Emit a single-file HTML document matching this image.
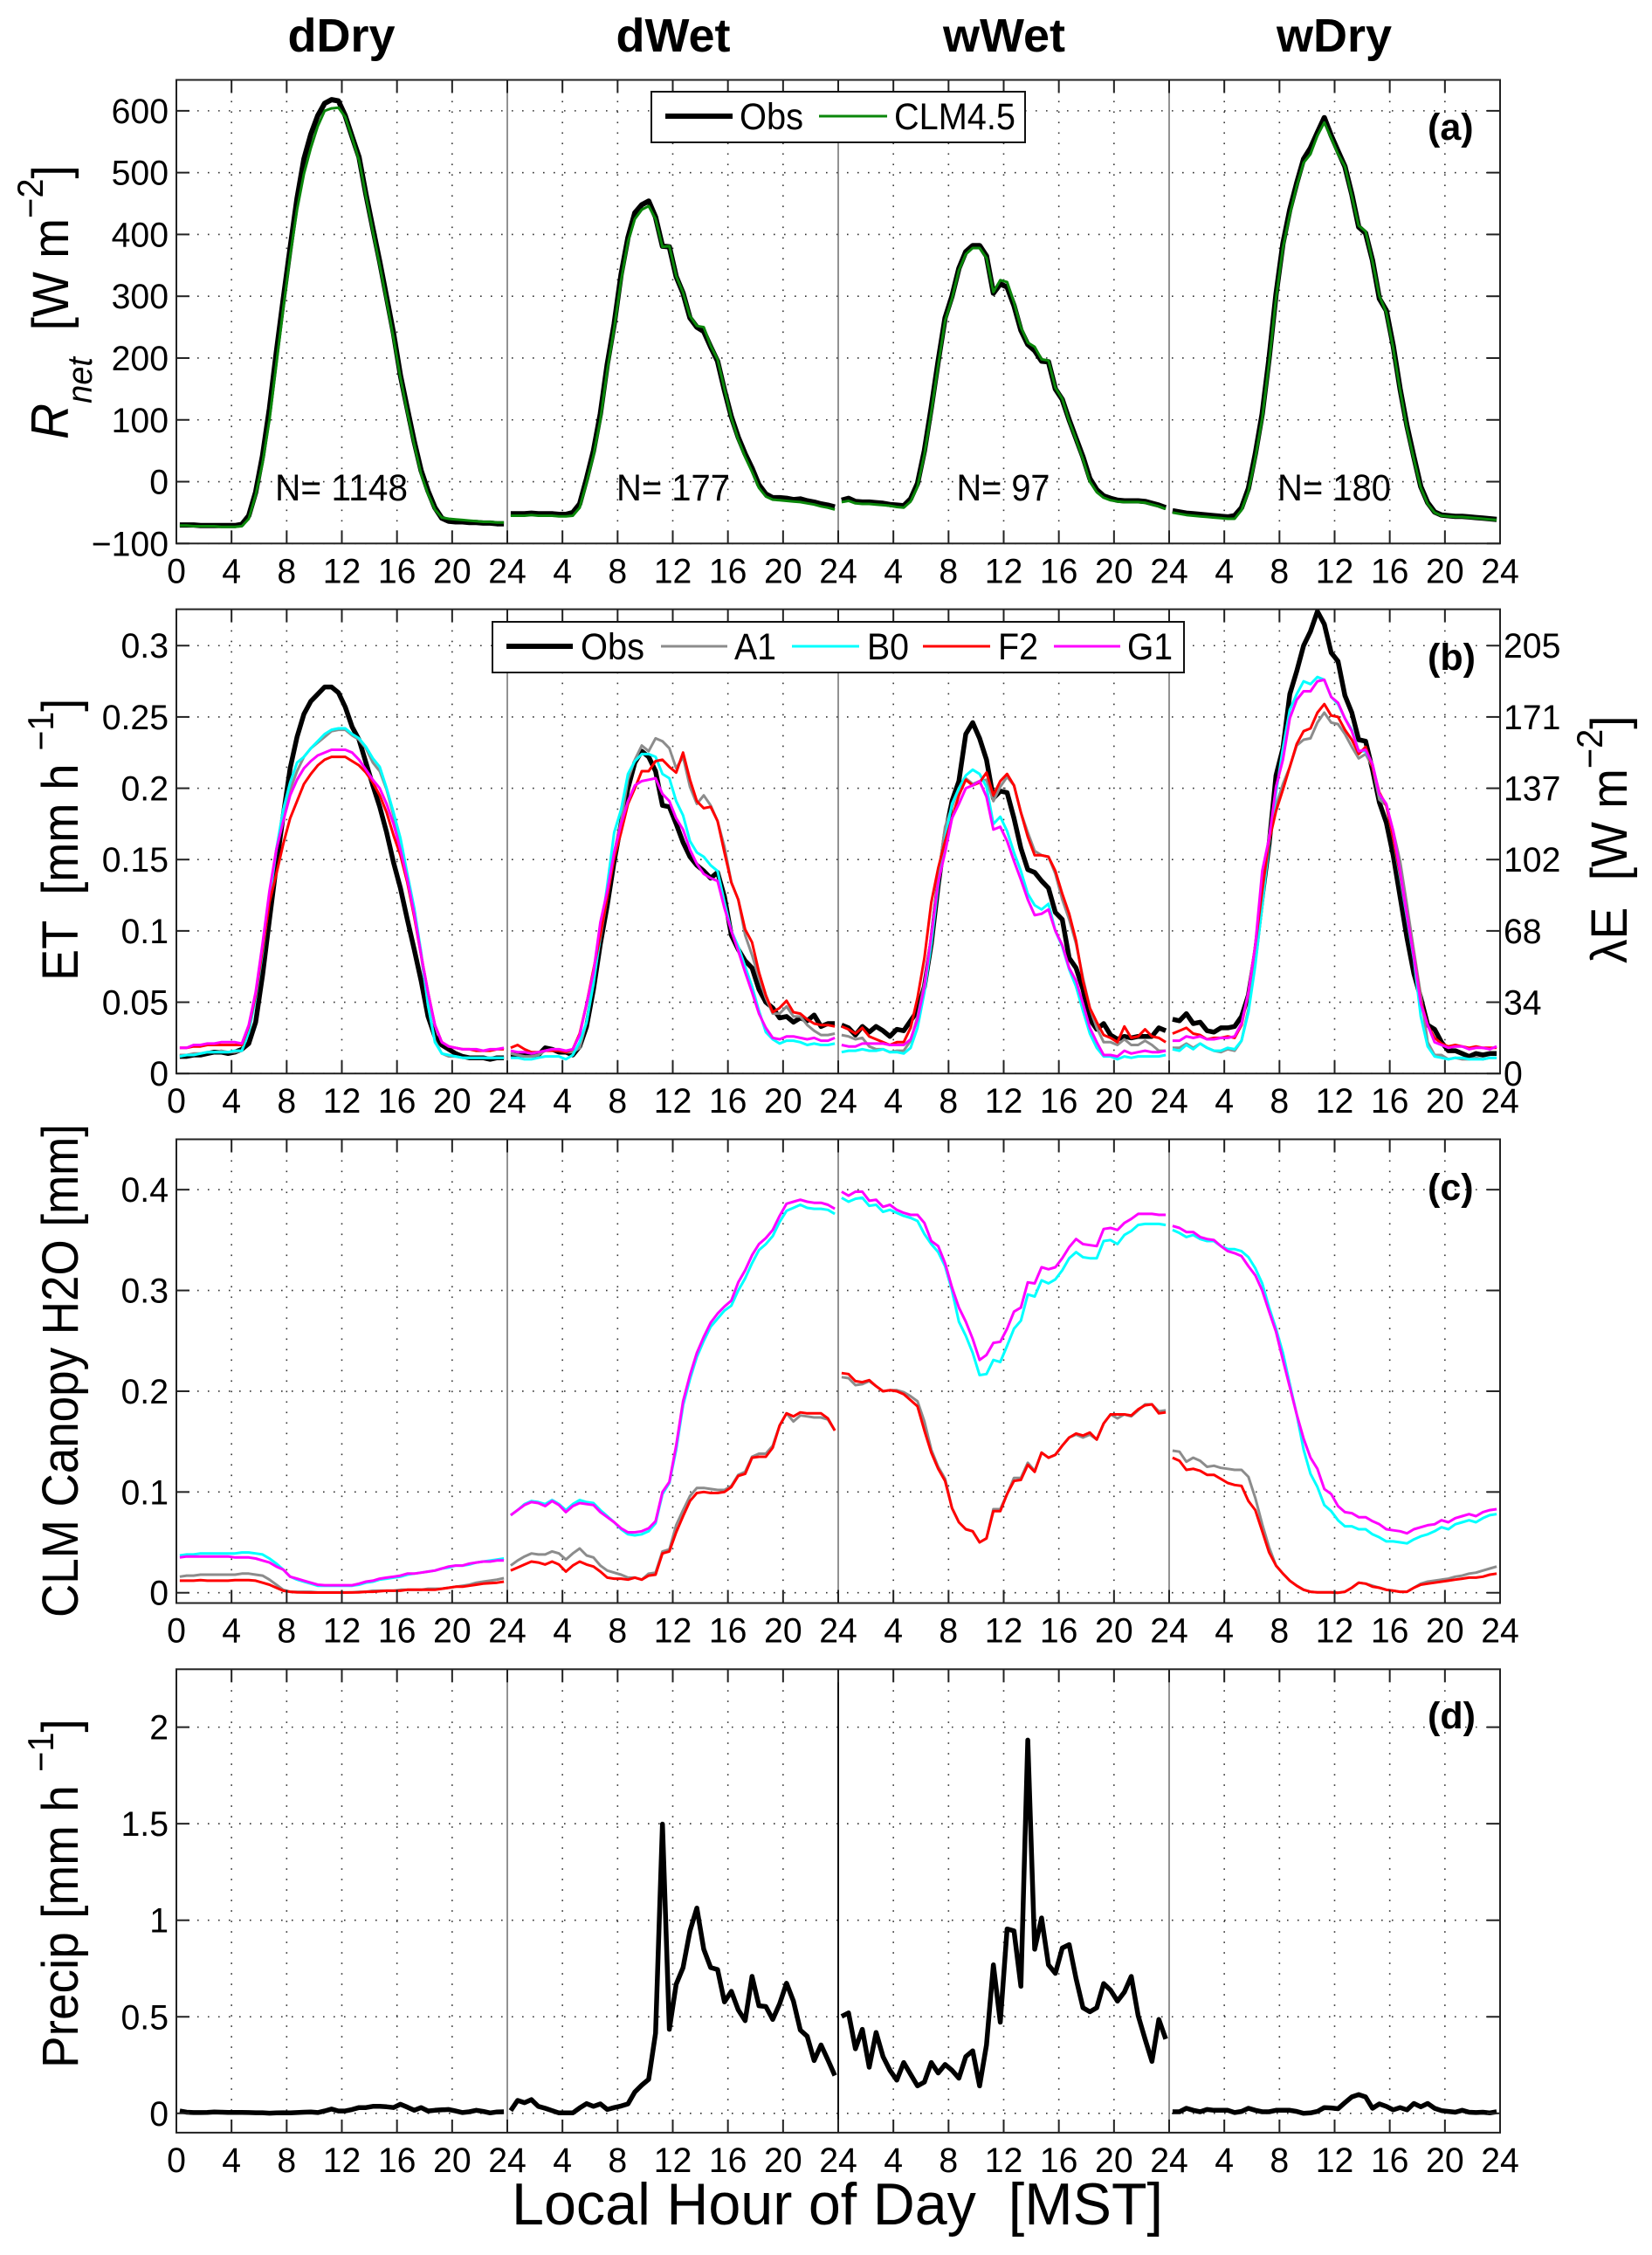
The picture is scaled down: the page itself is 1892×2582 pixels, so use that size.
<!DOCTYPE html>
<html lang="en">
<head>
<meta charset="utf-8">
<title>Diurnal energy, ET, canopy water and precipitation composites</title>
<style>
html,body{margin:0;padding:0;background:#fff;}
svg{display:block;}
text{font-family:"Liberation Sans",sans-serif;fill:#000;}
.title{font-size:54px;font-weight:bold;text-anchor:middle;}
.nlab{font-size:43px;text-anchor:middle;}
.plab{font-size:43px;font-weight:bold;}
.ylab{font-size:58px;}
.leg{font-size:43px;}
</style>
</head>
<body>
<svg id="chart" xmlns="http://www.w3.org/2000/svg" width="1892" height="2582" viewBox="0 0 1892 2582">
<rect x="0" y="0" width="1892" height="2582" fill="#fff"/>
<g id="marks"></g>

<text class="title" x="391" y="59">dDry</text>
<text class="title" x="771" y="59">dWet</text>
<text class="title" x="1150" y="59">wWet</text>
<text class="title" x="1528" y="59">wDry</text>

<text class="nlab" x="391" y="573" textLength="152" lengthAdjust="spacingAndGlyphs">N= 1148</text>
<text class="nlab" x="771" y="573" textLength="130" lengthAdjust="spacingAndGlyphs">N= 177</text>
<text class="nlab" x="1149" y="573" textLength="107" lengthAdjust="spacingAndGlyphs">N= 97</text>
<text class="nlab" x="1528" y="573" textLength="130" lengthAdjust="spacingAndGlyphs">N= 180</text>

<text class="plab" x="1635" y="160">(a)</text>
<text class="plab" x="1635" y="767">(b)</text>
<text class="plab" x="1635" y="1374">(c)</text>
<text class="plab" x="1635" y="1979">(d)</text>

<g id="legend-a">
<rect x="746" y="105" width="428" height="58" fill="#fff" stroke="#111" stroke-width="2"/>
<line x1="762" x2="839" y1="133" y2="133" stroke="#000" stroke-width="6"/>
<text class="leg" x="847" y="148" textLength="73" lengthAdjust="spacingAndGlyphs">Obs</text>
<line x1="938" x2="1016" y1="133" y2="133" stroke="#0a870a" stroke-width="3"/>
<text class="leg" x="1024" y="148" textLength="139" lengthAdjust="spacingAndGlyphs">CLM4.5</text>
</g>

<g id="legend-b">
<rect x="564" y="712" width="792" height="58" fill="#fff" stroke="#111" stroke-width="2"/>
<line x1="580" x2="656" y1="740" y2="740" stroke="#000" stroke-width="6"/>
<text class="leg" x="665" y="755" textLength="73" lengthAdjust="spacingAndGlyphs">Obs</text>
<line x1="757" x2="833" y1="740" y2="740" stroke="#8c8c8c" stroke-width="3"/>
<text class="leg" x="841" y="755" textLength="48" lengthAdjust="spacingAndGlyphs">A1</text>
<line x1="907" x2="984" y1="740" y2="740" stroke="#00ffff" stroke-width="3"/>
<text class="leg" x="993" y="755" textLength="48" lengthAdjust="spacingAndGlyphs">B0</text>
<line x1="1057" x2="1134" y1="740" y2="740" stroke="#ff0000" stroke-width="3"/>
<text class="leg" x="1143" y="755" textLength="46" lengthAdjust="spacingAndGlyphs">F2</text>
<line x1="1207" x2="1283" y1="740" y2="740" stroke="#ff00ff" stroke-width="3"/>
<text class="leg" x="1291" y="755" textLength="52" lengthAdjust="spacingAndGlyphs">G1</text>
</g>

<text class="ylab" transform="translate(78,503) rotate(-90) scale(0.95,1)"><tspan font-style="italic" font-size="60">R</tspan><tspan font-style="italic" font-size="40" dy="27">net</tspan><tspan dy="-27" xml:space="preserve">  [W m</tspan><tspan font-size="42" dy="-29">−2</tspan><tspan dy="29">]</tspan></text>
<text class="ylab" transform="translate(89,1123) rotate(-90) scale(0.933,1)" xml:space="preserve">ET  [mm h <tspan font-size="42" dy="-28">−1</tspan><tspan dy="28">]</tspan></text>
<text class="ylab" transform="translate(89,1852) rotate(-90)" textLength="565" lengthAdjust="spacingAndGlyphs">CLM Canopy H2O [mm]</text>
<text class="ylab" transform="translate(89,2368) rotate(-90) scale(0.948,1)" xml:space="preserve">Precip [mm h <tspan font-size="42" dy="-28">−1</tspan><tspan dy="28">]</tspan></text>
<text class="ylab" transform="translate(1863,1103) rotate(-90) scale(0.948,1)" xml:space="preserve">λE  [W m<tspan font-size="42" dy="-28">−2</tspan><tspan dy="28">]</tspan></text>
<text x="586" y="2547" font-size="68" textLength="746" lengthAdjust="spacingAndGlyphs" xml:space="preserve">Local Hour of Day  [MST]</text>
</svg>

<script>
// ---------- tick labels ----------
const hourTicks = [0, 4, 8, 12, 16, 20];
const hourEndTick = 24;
const rnetTicks = [-100, 0, 100, 200, 300, 400, 500, 600];
const etTicks = [0, 0.05, 0.1, 0.15, 0.2, 0.25, 0.3];
const lambdaTickLabels = ['0', '34', '68', '102', '137', '171', '205'];
const canopyTicks = [0, 0.1, 0.2, 0.3, 0.4];
const precipTicks = [0, 0.5, 1, 1.5, 2];
const regimes = ['dDry', 'dWet', 'wWet', 'wDry'];

// ---------- panel (a) net radiation, W m-2; half-hourly from 00:15, by regime ----------
const rnetObs = [
[-70,-70,-70,-71,-71,-71,-71,-71,-71,-69,-55,-17,42,118,209,295,378,458,522,562,592,612,618,616,592,558,525,465,410,356,298,240,172,118,65,18,-15,-42,-59,-64,-65,-65,-66,-66,-67,-67,-68,-68],
[-52,-52,-52,-51,-52,-52,-52,-53,-53,-50,-36,5,50,110,190,255,335,395,435,448,454,428,381,380,332,305,265,250,243,218,195,148,105,72,45,22,-5,-20,-26,-26,-27,-29,-28,-31,-33,-36,-38,-41],
[-30,-27,-32,-33,-33,-34,-35,-37,-38,-39,-28,-3,50,120,195,265,300,345,372,382,382,365,305,320,315,285,245,222,212,195,194,150,133,100,70,40,5,-13,-23,-27,-30,-31,-31,-31,-32,-35,-38,-42],
[-47,-49,-51,-52,-53,-54,-55,-56,-57,-55,-42,-11,45,110,200,303,385,440,483,522,540,565,589,560,535,510,465,412,402,358,296,277,220,150,90,40,-8,-34,-49,-54,-55,-56,-56,-57,-58,-59,-60,-61]
];
const rnetClm = [
[-71,-71,-72,-72,-72,-72,-73,-73,-73,-72,-60,-22,30,100,190,280,365,440,498,540,575,600,604,605,590,556,520,462,405,350,292,232,168,112,60,12,-20,-45,-58,-60,-61,-62,-63,-64,-65,-65,-66,-66],
[-55,-55,-55,-54,-55,-55,-55,-56,-56,-55,-42,-2,42,100,180,248,325,388,425,440,446,425,380,381,333,306,268,252,250,220,198,150,103,68,40,16,-10,-24,-29,-30,-31,-32,-33,-35,-37,-40,-42,-45],
[-33,-31,-35,-36,-36,-37,-38,-39,-41,-42,-32,-8,44,112,188,260,296,342,368,378,378,362,307,326,323,290,250,225,218,198,196,152,134,98,68,36,0,-17,-26,-30,-32,-33,-33,-33,-34,-37,-40,-44],
[-50,-52,-54,-55,-56,-57,-58,-59,-60,-60,-46,-16,38,102,192,296,378,432,478,516,530,560,581,556,530,510,462,414,405,356,300,274,216,148,86,36,-10,-36,-50,-55,-56,-57,-57,-58,-59,-60,-61,-62]
];

// ---------- panel (b) ET, mm h-1 ----------
const etObs = [
[.012,.012,.013,.013,.014,.015,.015,.014,.015,.017,.021,.036,.069,.108,.146,.181,.214,.236,.252,.261,.266,.271,.271,.267,.257,.243,.234,.218,.202,.187,.169,.148,.13,.108,.087,.065,.04,.026,.02,.017,.014,.012,.011,.011,.011,.01,.011,.011],
[.013,.013,.013,.013,.013,.018,.017,.015,.015,.013,.019,.033,.059,.091,.118,.149,.175,.2,.218,.226,.222,.212,.188,.187,.175,.162,.152,.146,.142,.137,.141,.124,.097,.087,.079,.074,.059,.05,.046,.039,.04,.036,.039,.037,.041,.033,.035,.035],
[.034,.032,.027,.033,.029,.033,.03,.026,.031,.03,.037,.044,.061,.091,.132,.167,.191,.205,.238,.246,.235,.22,.193,.198,.197,.179,.158,.143,.141,.135,.13,.113,.108,.081,.074,.059,.038,.031,.035,.027,.024,.026,.025,.026,.026,.026,.032,.03],
[.038,.037,.042,.035,.036,.03,.029,.032,.032,.033,.04,.055,.084,.124,.161,.209,.228,.266,.282,.3,.31,.324,.315,.295,.289,.265,.253,.234,.233,.213,.19,.176,.153,.124,.095,.07,.053,.034,.031,.022,.016,.016,.014,.012,.014,.013,.014,.014]
];
const etA1 = [
[.013,.013,.014,.014,.015,.015,.016,.015,.015,.016,.03,.055,.087,.124,.157,.181,.199,.212,.222,.228,.232,.236,.24,.241,.241,.237,.234,.228,.218,.212,.199,.181,.161,.138,.114,.083,.048,.023,.014,.012,.012,.011,.011,.011,.011,.011,.011,.011],
[.014,.013,.012,.012,.013,.016,.017,.016,.015,.015,.018,.036,.065,.095,.124,.155,.177,.206,.22,.23,.226,.235,.233,.228,.214,.222,.201,.189,.195,.188,.177,.159,.134,.122,.097,.083,.067,.053,.042,.042,.047,.04,.04,.034,.03,.027,.027,.028],
[.027,.026,.024,.025,.019,.017,.017,.015,.016,.016,.023,.04,.063,.095,.138,.173,.187,.2,.207,.203,.205,.206,.191,.201,.208,.202,.183,.169,.156,.153,.152,.14,.122,.108,.091,.067,.046,.032,.022,.022,.02,.024,.02,.02,.023,.02,.016,.016],
[.018,.018,.021,.018,.021,.018,.016,.015,.017,.016,.023,.045,.08,.126,.167,.188,.203,.215,.23,.234,.235,.246,.253,.246,.245,.238,.229,.221,.224,.215,.192,.188,.17,.149,.118,.086,.055,.022,.013,.013,.01,.011,.01,.01,.011,.01,.011,.011]
];
const etB0 = [
[.012,.013,.013,.014,.015,.015,.015,.015,.016,.016,.029,.053,.085,.122,.157,.185,.204,.218,.222,.228,.233,.238,.241,.242,.242,.238,.235,.229,.221,.215,.2,.183,.165,.14,.116,.085,.048,.022,.014,.013,.012,.011,.011,.011,.011,.011,.011,.011],
[.011,.011,.01,.01,.011,.012,.012,.012,.01,.013,.022,.036,.063,.097,.132,.169,.185,.21,.219,.224,.224,.222,.21,.207,.191,.181,.163,.155,.152,.146,.142,.12,.1,.089,.075,.061,.044,.029,.024,.021,.023,.023,.022,.02,.021,.02,.02,.021],
[.015,.016,.016,.017,.016,.016,.017,.015,.015,.014,.018,.032,.057,.091,.132,.165,.189,.2,.209,.213,.21,.201,.175,.18,.17,.155,.142,.126,.118,.115,.119,.1,.089,.073,.061,.044,.028,.018,.012,.012,.01,.012,.011,.012,.012,.012,.012,.013],
[.017,.016,.02,.017,.021,.018,.016,.016,.018,.017,.023,.043,.076,.118,.161,.197,.228,.255,.266,.275,.273,.278,.276,.264,.259,.249,.241,.226,.226,.217,.196,.188,.165,.138,.109,.08,.04,.019,.012,.011,.01,.011,.011,.01,.01,.01,.011,.011]
];
const etF2 = [
[.018,.018,.019,.019,.02,.02,.02,.02,.02,.02,.033,.055,.087,.12,.14,.161,.179,.191,.203,.21,.216,.22,.222,.222,.222,.219,.216,.211,.204,.195,.183,.167,.153,.134,.11,.083,.057,.034,.022,.019,.018,.017,.017,.016,.016,.016,.017,.017],
[.018,.02,.017,.015,.015,.016,.016,.016,.015,.017,.028,.049,.073,.097,.124,.151,.169,.189,.2,.212,.212,.219,.22,.215,.211,.225,.206,.191,.186,.187,.177,.155,.134,.122,.101,.092,.071,.055,.043,.046,.051,.043,.042,.038,.035,.034,.034,.033],
[.033,.031,.028,.032,.026,.024,.022,.02,.022,.022,.032,.053,.081,.12,.144,.163,.179,.195,.206,.202,.204,.211,.195,.205,.21,.202,.183,.166,.153,.153,.152,.142,.126,.112,.093,.065,.046,.036,.027,.025,.022,.033,.025,.026,.031,.026,.025,.022],
[.028,.03,.032,.028,.027,.024,.025,.025,.026,.025,.034,.057,.09,.128,.163,.184,.199,.215,.231,.24,.242,.253,.259,.251,.25,.241,.234,.224,.229,.215,.197,.188,.165,.14,.111,.082,.051,.034,.025,.021,.019,.02,.019,.018,.019,.018,.018,.018]
];
const etG1 = [
[.018,.018,.02,.02,.021,.021,.022,.022,.022,.021,.034,.057,.091,.128,.157,.177,.195,.206,.214,.219,.223,.225,.227,.227,.227,.225,.22,.213,.206,.2,.189,.175,.157,.136,.112,.083,.057,.034,.022,.019,.018,.017,.017,.017,.016,.017,.017,.018],
[.016,.015,.015,.014,.015,.016,.017,.017,.016,.017,.027,.049,.071,.106,.128,.155,.175,.191,.202,.205,.206,.207,.196,.191,.179,.171,.157,.147,.14,.137,.135,.116,.1,.086,.071,.057,.042,.032,.025,.024,.026,.026,.025,.024,.025,.023,.023,.025],
[.02,.019,.019,.021,.021,.021,.021,.02,.02,.02,.024,.038,.061,.097,.134,.155,.179,.189,.2,.202,.205,.194,.171,.173,.163,.149,.136,.122,.111,.112,.115,.1,.09,.074,.065,.049,.032,.022,.013,.013,.012,.016,.014,.015,.016,.015,.015,.016],
[.023,.023,.026,.025,.026,.024,.024,.025,.025,.026,.035,.057,.09,.142,.165,.201,.22,.249,.262,.268,.268,.275,.276,.264,.26,.249,.24,.226,.227,.217,.196,.189,.17,.142,.111,.082,.049,.034,.022,.02,.018,.019,.019,.017,.018,.018,.017,.019]
];

// ---------- panel (c) canopy water, mm ----------
const canopyA1 = [
[.016,.017,.017,.018,.018,.018,.018,.018,.018,.019,.019,.018,.017,.013,.008,.003,.001,.001,.001,.001,.0005,.0005,.0005,.0005,.0005,.0005,.001,.001,.002,.002,.002,.002,.003,.003,.003,.003,.004,.004,.004,.005,.006,.007,.008,.01,.011,.012,.013,.0145],
[.027,.032,.036,.039,.038,.038,.041,.039,.033,.039,.044,.037,.035,.027,.022,.02,.018,.015,.015,.013,.019,.02,.041,.043,.067,.082,.096,.104,.104,.103,.102,.102,.106,.117,.12,.135,.138,.138,.146,.166,.178,.17,.176,.175,.174,.174,.172,.161],
[.214,.213,.206,.207,.21,.205,.2,.201,.201,.199,.195,.19,.17,.142,.125,.113,.084,.07,.063,.061,.05,.054,.083,.083,.098,.114,.114,.129,.121,.139,.134,.137,.146,.154,.157,.154,.157,.152,.168,.177,.173,.177,.175,.181,.187,.187,.18,.181],
[.141,.14,.13,.134,.131,.125,.126,.124,.123,.122,.122,.115,.094,.068,.045,.027,.019,.012,.007,.003,.001,.0005,.0005,.0005,0,.001,.005,.01,.009,.007,.005,.003,.002,.001,.001,.005,.009,.011,.012,.013,.014,.016,.017,.019,.02,.022,.024,.026]
];
const canopyB0 = [
[.037,.038,.038,.039,.039,.039,.039,.039,.039,.04,.04,.039,.038,.034,.029,.023,.016,.013,.011,.009,.007,.007,.007,.007,.007,.007,.008,.01,.011,.013,.014,.015,.016,.018,.019,.02,.021,.022,.024,.025,.027,.027,.028,.03,.031,.032,.033,.034],
[.077,.082,.088,.091,.09,.088,.092,.088,.082,.088,.092,.09,.089,.082,.076,.07,.063,.058,.057,.058,.061,.069,.098,.109,.142,.186,.212,.234,.25,.264,.272,.28,.285,.3,.312,.327,.34,.346,.354,.368,.379,.382,.385,.382,.381,.381,.38,.376],
[.392,.388,.391,.392,.384,.385,.378,.38,.377,.374,.372,.369,.356,.346,.338,.324,.3,.269,.255,.238,.216,.217,.231,.229,.245,.262,.27,.296,.294,.31,.307,.311,.32,.332,.338,.333,.332,.332,.349,.35,.346,.355,.359,.365,.366,.366,.366,.365],
[.36,.357,.353,.355,.351,.349,.349,.344,.341,.341,.339,.333,.322,.307,.283,.262,.238,.207,.177,.142,.118,.105,.087,.081,.072,.066,.066,.063,.063,.058,.055,.051,.051,.05,.049,.053,.056,.058,.061,.065,.063,.068,.07,.072,.07,.074,.077,.078]
];
const canopyF2 = [
[.012,.012,.012,.0125,.012,.012,.012,.012,.0125,.0125,.0125,.012,.01,.008,.005,.002,.001,.0005,.0003,.0002,.0002,.0002,.0002,.0002,.0002,.0003,.0005,.001,.001,.0015,.002,.002,.002,.003,.003,.003,.003,.003,.004,.005,.006,.006,.007,.008,.009,.0095,.01,.011],
[.022,.025,.028,.031,.03,.028,.031,.028,.021,.027,.031,.028,.026,.021,.015,.014,.014,.013,.015,.013,.017,.018,.039,.041,.06,.076,.091,.099,.1,.099,.099,.1,.105,.116,.118,.134,.135,.135,.144,.166,.178,.175,.179,.178,.178,.178,.173,.161],
[.218,.217,.21,.209,.211,.205,.2,.201,.2,.197,.191,.185,.161,.139,.123,.111,.084,.07,.063,.061,.05,.054,.081,.081,.098,.111,.112,.127,.12,.139,.134,.137,.146,.154,.158,.156,.159,.152,.168,.177,.177,.177,.176,.182,.186,.187,.178,.179],
[.134,.131,.122,.123,.121,.117,.117,.113,.109,.107,.106,.091,.082,.061,.04,.027,.019,.012,.007,.003,.001,.0005,.0005,.0005,0,.001,.005,.01,.009,.006,.005,.003,.002,.001,.001,.005,.008,.009,.01,.011,.012,.013,.014,.015,.015,.016,.018,.019]
];
const canopyG1 = [
[.035,.036,.036,.036,.036,.036,.036,.036,.035,.035,.035,.034,.032,.03,.026,.023,.016,.014,.012,.01,.008,.0075,.0075,.0075,.0075,.0075,.009,.011,.012,.014,.015,.016,.017,.019,.019,.02,.021,.022,.024,.026,.027,.027,.029,.03,.031,.031,.032,.032],
[.077,.082,.087,.09,.089,.086,.091,.087,.08,.086,.089,.088,.087,.08,.075,.07,.064,.06,.06,.061,.064,.071,.1,.11,.146,.19,.216,.238,.254,.268,.277,.284,.29,.308,.32,.335,.346,.352,.36,.374,.386,.388,.39,.388,.387,.387,.385,.381],
[.398,.394,.398,.398,.389,.39,.383,.385,.38,.377,.375,.375,.367,.349,.344,.327,.303,.283,.269,.252,.231,.236,.248,.249,.262,.279,.283,.308,.307,.323,.321,.323,.332,.343,.351,.346,.345,.344,.361,.362,.36,.367,.371,.376,.376,.376,.375,.375],
[.364,.362,.358,.358,.353,.351,.35,.344,.339,.337,.334,.324,.315,.3,.279,.259,.231,.204,.177,.153,.134,.123,.103,.098,.086,.08,.079,.075,.075,.071,.068,.063,.062,.061,.059,.063,.065,.067,.068,.072,.07,.074,.076,.078,.076,.08,.082,.083]
];

// ---------- panel (d) precipitation, mm h-1 ----------
const precipObs = [
[.012,.006,.004,.004,.005,.007,.006,.005,.005,.005,.004,.003,.003,.001,.002,.003,.002,.004,.006,.007,.004,.012,.022,.012,.012,.02,.03,.03,.036,.036,.034,.03,.047,.032,.016,.03,.012,.016,.018,.02,.012,.004,.008,.016,.01,.002,.007,.008],
[.014,.067,.055,.071,.036,.026,.014,.002,.002,.002,.028,.05,.036,.049,.02,.03,.038,.049,.111,.146,.176,.415,1.498,.435,.668,.755,.945,1.063,.85,.755,.745,.577,.632,.536,.48,.709,.557,.553,.486,.567,.674,.581,.431,.399,.273,.354,.277,.196],
[.502,.52,.334,.435,.239,.419,.294,.223,.172,.263,.202,.142,.162,.263,.209,.253,.223,.182,.294,.324,.142,.354,.769,.472,.955,.945,.658,1.933,.85,1.012,.769,.725,.856,.874,.698,.547,.526,.547,.672,.638,.581,.628,.709,.506,.385,.269,.486,.385],
[.008,.008,.026,.016,.008,.02,.016,.016,.016,.004,.01,.026,.016,.008,.008,.016,.016,.016,.01,0,.002,.01,.03,.028,.024,.055,.085,.097,.085,.026,.049,.036,.018,.03,.018,.051,.034,.051,.026,.014,.01,.006,.016,.006,.004,.006,.002,.008]
];

// ---------- layout & axis functions ----------
const plotLeft = 202;
const plotWidth = 1516;
const hoursTotal = 96;
function xScale(regimeIndex, hour) {
  return plotLeft + (regimeIndex * 24 + hour) * plotWidth / hoursTotal;
}
function sampleHour(i) {
  return 0.25 + i * 0.5;
}
function makeYScale(domainMin, domainMax, pxBottom, pxTop) {
  return function (v) {
    return pxBottom - (v - domainMin) / (domainMax - domainMin) * (pxBottom - pxTop);
  };
}
const NS = 'http://www.w3.org/2000/svg';
const marks = document.getElementById('marks');
function mk(tag, parent, attrs) {
  const el = document.createElementNS(NS, tag);
  for (const k in attrs) el.setAttribute(k, attrs[k]);
  parent.appendChild(el);
  return el;
}
function fmtTick(v) {
  return v < 0 ? '\u2212' + Math.abs(v) : String(v);
}
const tickFontSize = 40;
const tickStretch = 0.98;
function tickText(parent, str, x, y, anchor, name) {
  const t = mk('text', parent, {
    'transform': 'translate(' + x + ',' + y + ') scale(' + tickStretch + ',1)',
    'font-size': tickFontSize,
    'text-anchor': anchor
  });
  
  
  t.textContent = str;
  return t;
}

function drawPanel(cfg) {
  const g = mk('g', marks, {});
  
  
  const y = makeYScale(cfg.min, cfg.max, cfg.bottom, cfg.top);
  const right = plotLeft + plotWidth;

  // grid
  cfg.ticks.forEach(function (v) {
    const l = mk('line', g, {x1: plotLeft, x2: right, y1: y(v), y2: y(v), stroke: '#333', 'stroke-width': 1.6, 'stroke-dasharray': '1.6 10.4'});
    
    
  });
  regimes.forEach(function (r, ri) {
    hourTicks.forEach(function (h) {
      if (h === 0) return;
      const px = xScale(ri, h);
      const l = mk('line', g, {x1: px, x2: px, y1: cfg.top, y2: cfg.bottom, stroke: '#333', 'stroke-width': 1.6, 'stroke-dasharray': '1.6 10.4'});
      
      
    });
  });

  // series
  const clipId = 'clip-' + cfg.key;
  const cp = mk('clipPath', g, {id: clipId});
  mk('rect', cp, {x: plotLeft, y: cfg.top, width: plotWidth, height: cfg.bottom - cfg.top});
  cfg.series.forEach(function (s) {
    regimes.forEach(function (r, ri) {
      const d = s.values[ri].map(function (v, i) {
        return (i ? 'L' : 'M') + xScale(ri, sampleHour(i)).toFixed(1) + ' ' + y(v).toFixed(1);
      }).join('');
      const p = mk('path', g, {d: d, fill: 'none', stroke: s.color, 'stroke-width': s.width, 'stroke-linejoin': 'round', 'clip-path': 'url(#' + clipId + ')'});
      
      
    });
  });

  // separators
  [1, 2, 3].forEach(function (k) {
    const px = xScale(k, 0);
    const dark = cfg.key === 'd' && k === 2;
    const l = mk('line', g, {x1: px, x2: px, y1: cfg.top, y2: cfg.bottom, stroke: dark ? '#111' : '#777', 'stroke-width': dark ? 2 : 1.6});
    
    
  });

  // frame
  const frame = mk('rect', g, {x: plotLeft, y: cfg.top, width: plotWidth, height: cfg.bottom - cfg.top, fill: 'none', stroke: '#222', 'stroke-width': 2});
  
  

  // y ticks
  cfg.ticks.forEach(function (v, i) {
    const py = y(v);
    const a = mk('line', g, {x1: plotLeft, x2: plotLeft + 15, y1: py, y2: py, stroke: '#222', 'stroke-width': 2});
    
    
    const b = mk('line', g, {x1: right - 15, x2: right, y1: py, y2: py, stroke: '#222', 'stroke-width': 2});
    
    
    tickText(g, fmtTick(v), 193, py + 14, 'end', 'y-tick-label');
    if (cfg.rightLabels) {
      tickText(g, cfg.rightLabels[i], 1722, py + 14, 'start', 'right-tick-label');
    }
  });

  // x ticks
  regimes.forEach(function (r, ri) {
    hourTicks.concat(ri === regimes.length - 1 ? [hourEndTick] : []).forEach(function (h) {
      const px = xScale(ri, h);
      const t1 = mk('line', g, {x1: px, x2: px, y1: cfg.bottom, y2: cfg.bottom - 15, stroke: '#222', 'stroke-width': 2});
      
      
      const t2 = mk('line', g, {x1: px, x2: px, y1: cfg.top, y2: cfg.top + 15, stroke: '#222', 'stroke-width': 2});
      
      
      let label = String(h);
      if (h === 0 && ri > 0) label = String(hourEndTick);
      tickText(g, label, px, cfg.bottom + 45, 'middle', 'x-tick-label');
    });
  });
}

const black = '#000';
drawPanel({key: 'a', min: -100, max: 650, bottom: 622.3, top: 91.5, ticks: rnetTicks, series: [
  {name: 'obs', color: black, width: 6, values: rnetObs},
  {name: 'clm45', color: '#0a870a', width: 3, values: rnetClm}
]});
drawPanel({key: 'b', min: 0, max: 0.3255, bottom: 1229.2, top: 697.6, ticks: etTicks, rightLabels: lambdaTickLabels, series: [
  {name: 'obs', color: black, width: 5.5, values: etObs},
  {name: 'a1', color: '#8c8c8c', width: 3, values: etA1},
  {name: 'b0', color: '#00ffff', width: 3, values: etB0},
  {name: 'f2', color: '#ff0000', width: 3, values: etF2},
  {name: 'g1', color: '#ff00ff', width: 3, values: etG1}
]});
drawPanel({key: 'c', min: -0.0102, max: 0.45, bottom: 1835.5, top: 1304.5, ticks: canopyTicks, series: [
  {name: 'a1', color: '#8c8c8c', width: 3, values: canopyA1},
  {name: 'b0', color: '#00ffff', width: 3, values: canopyB0},
  {name: 'f2', color: '#ff0000', width: 3, values: canopyF2},
  {name: 'g1', color: '#ff00ff', width: 3, values: canopyG1}
]});
drawPanel({key: 'd', min: -0.1, max: 2.3, bottom: 2441.9, top: 1911.3, ticks: precipTicks, series: [
  {name: 'obs', color: black, width: 5.5, values: precipObs}
]});
</script>
</body>
</html>
